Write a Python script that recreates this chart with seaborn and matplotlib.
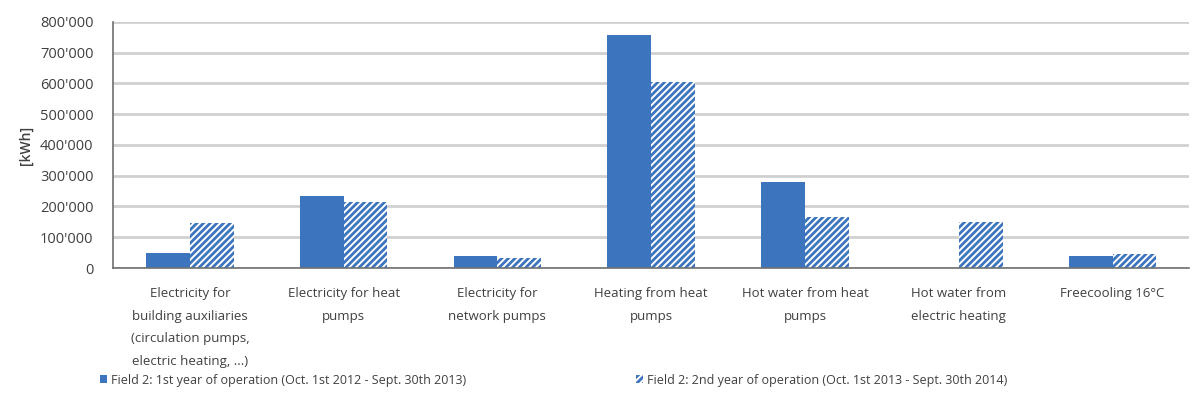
import pandas as pd
import matplotlib.pyplot as plt
import matplotlib.ticker as mticker
from matplotlib.patches import Patch
import seaborn as sns

# data
categories = [
    "Electricity for\nbuilding auxiliaries\n(circulation pumps,\nelectric heating, ...)",
    "Electricity for heat\npumps",
    "Electricity for\nnetwork pumps",
    "Heating from heat\npumps",
    "Hot water from heat\npumps",
    "Hot water from\nelectric heating",
    "Freecooling 16°C",
]
year1 = [50000, 234000, 40000, 758000, 280000, 0, 40000]
year2 = [145000, 215000, 33000, 605000, 166000, 150000, 45000]
series = [
    "Field 2: 1st year of operation (Oct. 1st 2012 - Sept. 30th 2013)",
    "Field 2: 2nd year of operation (Oct. 1st 2013 - Sept. 30th 2014)",
]

df = pd.DataFrame({
    "category": categories * 2,
    "value": year1 + year2,
    "series": [series[0]] * len(categories) + [series[1]] * len(categories),
})

sns.set_style("white")
plt.rcParams['font.family'] = ['Open Sans', 'DejaVu Sans']
plt.rcParams['hatch.linewidth'] = 2.0

blue = '#3D74BE'
text_col = '#404040'

fig = plt.figure(figsize=(11.93, 3.98), dpi=100)
ax = fig.add_axes([0.0947, 0.3266, 0.9023, 0.6184])

sns.barplot(data=df, x="category", y="value", hue="series", hue_order=series,
            palette=[blue, 'white'], width=0.57, gap=0, ax=ax,
            legend=False, saturation=1, linewidth=0)

n = len(categories)
for i, p in enumerate(ax.patches):
    if i >= n:
        p.set_facecolor('white')
        p.set_edgecolor(blue)
        p.set_hatch('/////')
        p.set_linewidth(0)

ax.set_ylim(0, 800000)
ax.set_xlim(-0.5, n - 0.5)
ax.yaxis.set_major_locator(mticker.MultipleLocator(100000))
ax.yaxis.set_major_formatter(mticker.FuncFormatter(
    lambda v, pos: f"{int(v):,}".replace(",", "'")))
ax.grid(axis='y', color='#d0d0d0', linewidth=2)
ax.set_axisbelow(True)

for s in ['top', 'right']:
    ax.spines[s].set_visible(False)
ax.spines['left'].set_color('#707070')
ax.spines['bottom'].set_color('#707070')
ax.spines['left'].set_linewidth(1.2)
ax.spines['bottom'].set_linewidth(1.2)

ax.set_xlabel('')
ax.set_ylabel('[kWh]', fontsize=10, color=text_col, labelpad=5,
              fontweight='semibold')
ax.tick_params(axis='y', labelsize=10.5, colors=text_col, length=5,
               color='#707070', pad=9)
ax.tick_params(axis='x', length=0, pad=14)
ax.set_xticks(range(n))
ax.set_xticklabels(categories, fontsize=9.5, color=text_col, linespacing=1.95)

# category separator ticks
ax.set_xticks([i - 0.5 for i in range(n + 1)], minor=True)
ax.tick_params(axis='x', which='minor', length=4, color='#707070')

handles = [Patch(facecolor=blue, edgecolor=blue, linewidth=0),
           Patch(facecolor='white', edgecolor=blue, hatch='/////', linewidth=0)]
fig.legend(handles, series, loc='center', bbox_to_anchor=(0.464, 0.045),
           ncol=2, frameon=False, fontsize=9, handlelength=0.6,
           handleheight=0.6, handletextpad=0.3, columnspacing=13.6,
           labelcolor=text_col)

fig.savefig('out.png', dpi=100)
